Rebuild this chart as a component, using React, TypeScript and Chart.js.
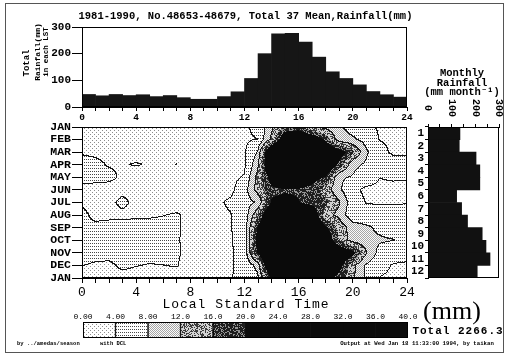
import React, { useEffect, useRef } from 'react';
import { Chart, registerables } from 'chart.js';
Chart.register(...registerables);

const MONO = '"Liberation Mono", "DejaVu Sans Mono", monospace';

// ---------- data ----------
const MONTH_TICKS = ['JAN', 'FEB', 'MAR', 'APR', 'MAY', 'JUN', 'JUL', 'AUG', 'SEP', 'OCT', 'NOV', 'DEC', 'JAN'];
const MONTH_NUMS = ['1', '2', '3', '4', '5', '6', '7', '8', '9', '10', '11', '12'];
const HOURLY_TOTAL = [47, 42, 47, 43, 46, 39, 43, 35, 29, 29, 39, 57, 107, 200, 274, 276, 243, 187, 132, 107, 83, 58, 46, 37];
const MONTHLY_TOTAL = [135, 132, 203, 219, 219, 121, 142, 167, 229, 245, 262, 208];
const MONTHLY_TICKS = [0, 100, 200, 300];
const LEGEND_LABELS = ['0.00', '4.00', '8.00', '12.0', '16.0', '20.0', '24.0', '28.0', '32.0', '36.0', '40.0'];
const LEGEND_BOUNDS = [0, 4, 8, 12, 16, 20, 24, 28, 32, 36, 40];
const CONTOUR_LEVELS = [4, 8, 12, 16, 20];

// grid nodes: rows = month ticks (JAN..DEC, JAN), columns = hours 0..24
const GRID_JAN = [3.0, 3.0, 3.0, 3.0, 3.0, 3.0, 2.9, 2.8, 2.6, 2.5, 2.6, 3.0, 3.4, 4.9, 11.0, 16.5, 17.5, 12.3, 10.5, 8.6, 6.5, 4.8, 3.6, 3.3, 3.1];
const GRID_FEB = [3.2, 3.1, 3.0, 3.0, 3.0, 2.9, 2.8, 2.7, 2.5, 2.5, 2.7, 3.1, 3.6, 4.0, 12.6, 26.0, 27.0, 25.0, 19.3, 9.5, 8.6, 6.5, 3.9, 3.6, 3.5];
const GRID_MAR = [3.7, 3.5, 3.3, 3.1, 3.0, 3.0, 2.9, 2.8, 2.6, 2.6, 2.8, 3.1, 3.4, 8.2, 30.0, 31.0, 31.0, 30.0, 27.0, 23.0, 17.0, 8.7, 4.8, 3.6, 3.7];
const GRID_APR = [5.0, 4.6, 3.8, 3.85, 4.15, 3.85, 3.5, 4.05, 3.4, 3.0, 3.0, 2.9, 3.0, 11.0, 30.0, 31.0, 31.0, 30.0, 27.0, 18.8, 9.2, 7.4, 5.5, 5.0, 4.6];
const GRID_MAY = [5.2, 4.9, 4.6, 3.6, 3.0, 3.0, 3.0, 3.0, 2.9, 2.8, 3.0, 3.2, 4.3, 13.4, 22.3, 26.0, 25.0, 22.0, 19.5, 8.6, 7.7, 5.5, 4.05, 4.3, 4.2];
const GRID_JUN = [3.0, 3.0, 3.1, 3.2, 3.2, 3.0, 2.9, 2.8, 2.7, 2.7, 2.9, 3.2, 6.0, 13.7, 19.0, 19.5, 19.5, 18.5, 14.2, 8.8, 4.6, 3.5, 3.5, 3.4, 3.4];
const GRID_JUL = [3.6, 3.3, 3.2, 4.7, 3.2, 3.1, 3.0, 2.9, 2.8, 2.8, 3.5, 4.5, 6.3, 8.5, 20.5, 21.5, 20.2, 18.5, 16.8, 12.5, 5.5, 3.9, 3.8, 3.8, 3.9];
const GRID_AUG = [4.7, 3.3, 3.4, 3.4, 3.5, 3.6, 3.9, 4.2, 3.5, 3.0, 3.1, 3.9, 5.0, 15.5, 29.0, 30.0, 29.0, 25.0, 13.4, 10.9, 5.0, 4.8, 4.8, 4.7, 4.7];
const GRID_SEP = [4.8, 4.6, 4.8, 5.0, 5.0, 5.0, 4.9, 4.6, 2.6, 2.6, 2.8, 3.9, 5.0, 21.0, 30.0, 31.0, 31.0, 28.0, 21.0, 14.75, 10.0, 8.8, 7.0, 5.8, 5.3];
const GRID_OCT = [5.0, 4.8, 5.0, 5.2, 5.2, 5.2, 5.0, 4.5, 2.6, 2.7, 2.9, 3.8, 5.2, 23.0, 31.0, 32.0, 32.0, 30.0, 25.0, 15.5, 10.0, 9.2, 8.6, 8.1, 7.5];
const GRID_NOV = [5.0, 4.9, 5.0, 5.2, 4.8, 4.8, 4.8, 4.6, 2.7, 2.8, 3.0, 3.7, 5.0, 21.0, 31.0, 32.0, 32.0, 31.0, 29.0, 26.0, 22.0, 12.5, 6.5, 5.5, 5.2];
const GRID_DEC = [4.1, 3.7, 3.5, 4.5, 4.1, 3.9, 4.0, 4.2, 2.7, 2.7, 2.9, 3.8, 4.6, 9.5, 31.0, 32.0, 32.0, 30.0, 26.0, 22.0, 13.5, 7.5, 5.0, 3.8, 3.6];
const GRID_JAN2 = [3.3, 3.2, 3.2, 3.2, 3.2, 3.1, 3.0, 3.0, 2.8, 2.8, 2.9, 3.8, 5.0, 7.0, 20.5, 27.0, 28.0, 25.0, 22.0, 18.4, 12.8, 7.5, 3.9, 3.5, 3.3];
const GRID = [GRID_JAN, GRID_FEB, GRID_MAR, GRID_APR, GRID_MAY, GRID_JUN, GRID_JUL, GRID_AUG, GRID_SEP, GRID_OCT, GRID_NOV, GRID_DEC, GRID_JAN2];

// ---------- textures ----------
function hash(x: number, y: number) {
  let h = (Math.imul(x + 17, 73856093) ^ Math.imul(y + 31, 19349663)) | 0;
  h = Math.imul(h ^ (h >>> 16), 0x85ebca6b);
  h = Math.imul(h ^ (h >>> 13), 0xc2b2ae35);
  h ^= h >>> 16;
  return (h >>> 0) / 4294967296;
}
function texel(level: number, x: number, y: number) {
  switch (level) {
    case 0: return (((x & 3) === 0 && (y & 3) === 0) || ((x & 3) === 2 && (y & 3) === 2)) ? 140 : 255;
    case 1: return (x % 2 === 0 && y % 3 === 0) ? 70 : 255;
    case 2: return ((x + y) & 1) === 0 ? 165 : 250;
    case 3: return hash(x, y) < 0.42 ? 60 : 210;
    case 4: return hash(x, y) < 0.72 ? 30 : 150;
    default: return 10;
  }
}
function levelOf(v: number) {
  let l = 0;
  for (const c of CONTOUR_LEVELS) if (v >= c) l++;
  return l;
}
function sample(h: number, m: number) {
  const hh = Math.max(0, Math.min(24, h));
  const mm = Math.max(0, Math.min(12, m));
  const i0 = Math.min(23, Math.floor(hh));
  const j0 = Math.min(11, Math.floor(mm));
  const fx = hh - i0, fy = mm - j0;
  const a = GRID[j0][i0], b = GRID[j0][i0 + 1], c = GRID[j0 + 1][i0], d = GRID[j0 + 1][i0 + 1];
  return (a * (1 - fx) + b * fx) * (1 - fy) + (c * (1 - fx) + d * fx) * fy;
}
function makePattern(ctx: CanvasRenderingContext2D, level: number) {
  const s = 64;
  const off = document.createElement('canvas');
  off.width = s; off.height = s;
  const o = off.getContext('2d')!;
  const img = o.createImageData(s, s);
  for (let y = 0; y < s; y++) for (let x = 0; x < s; x++) {
    const g = texel(level, x, y);
    const k = (y * s + x) * 4;
    img.data[k] = g; img.data[k + 1] = g; img.data[k + 2] = g; img.data[k + 3] = 255;
  }
  o.putImageData(img, 0, 0);
  return ctx.createPattern(off, 'repeat')!;
}

// ---------- plugins ----------
const boxPlugin = {
  id: 'box',
  afterDraw(chart: any) {
    const { ctx, chartArea: a } = chart;
    ctx.save();
    ctx.strokeStyle = '#000';
    ctx.lineWidth = 1;
    ctx.strokeRect(Math.round(a.left) + 0.5, Math.round(a.top) + 0.5, Math.round(a.right - a.left) - 1, Math.round(a.bottom - a.top) - 1);
    ctx.restore();
  },
};

const fieldPlugin = {
  id: 'field',
  beforeDatasetsDraw(chart: any) {
    const { ctx, chartArea: a, scales } = chart;
    const xs = scales.x, ys = scales.y;
    const L = Math.round(a.left), T = Math.round(a.top);
    const w = Math.round(a.right) - L, h = Math.round(a.bottom) - T;
    const lev = new Int8Array(w * h);
    for (let j = 0; j < h; j++) {
      const mv = ys.getValueForPixel(T + j + 0.5);
      for (let i = 0; i < w; i++) {
        const hv = xs.getValueForPixel(L + i + 0.5);
        lev[j * w + i] = levelOf(sample(hv, mv));
      }
    }
    const off = document.createElement('canvas');
    off.width = w; off.height = h;
    const o = off.getContext('2d')!;
    const img = o.createImageData(w, h);
    for (let j = 0; j < h; j++) for (let i = 0; i < w; i++) {
      const l = lev[j * w + i];
      let g = texel(l, L + i, T + j);
      const r = i + 1 < w ? lev[j * w + i + 1] : l;
      const d = j + 1 < h ? lev[(j + 1) * w + i] : l;
      if ((r !== l && Math.min(r, l) <= 2) || (d !== l && Math.min(d, l) <= 2)) g = 20;
      const k = (j * w + i) * 4;
      img.data[k] = g; img.data[k + 1] = g; img.data[k + 2] = g; img.data[k + 3] = 255;
    }
    o.putImageData(img, 0, 0);
    ctx.drawImage(off, L, T);
  },
};

const rotLabelsPlugin = {
  id: 'rotLabels',
  afterDraw(chart: any) {
    const { ctx } = chart;
    const xs = chart.scales.x;
    ctx.save();
    ctx.font = `bold 10px ${MONO}`;
    ctx.fillStyle = '#000';
    ctx.textAlign = 'center';
    ctx.textBaseline = 'middle';
    for (const v of MONTHLY_TICKS) {
      const px = xs.getPixelForValue(v);
      ctx.save();
      ctx.translate(px, 108);
      ctx.rotate(Math.PI / 2);
      ctx.fillText(String(v), 0, 0);
      ctx.restore();
    }
    ctx.restore();
  },
};

const legendLabelsPlugin = {
  id: 'legendLabels',
  afterDraw(chart: any) {
    const { ctx } = chart;
    const xs = chart.scales.x;
    ctx.save();
    ctx.font = `8px ${MONO}`;
    ctx.fillStyle = '#000';
    ctx.textAlign = 'center';
    ctx.textBaseline = 'middle';
    LEGEND_BOUNDS.forEach((v, i) => {
      ctx.fillText(LEGEND_LABELS[i], xs.getPixelForValue(v), 317);
    });
    ctx.restore();
  },
};

const W = 506, H = 359;
const axisGrid = (len: number) => ({ drawOnChartArea: false, drawTicks: true, tickLength: len, color: '#000', lineWidth: 1 });
const axisBorder = { display: true, color: '#000', width: 1 };

function Txt(props: { x: number; y: number; size: number; children: React.ReactNode; bold?: boolean; family?: string; rot?: number; ls?: number; align?: 'center' | 'left' }) {
  const { x, y, size, bold, family, rot, ls, align } = props;
  const tx = align === 'left' ? '0' : '-50%';
  return (
    <div style={{
      position: 'absolute', left: x, top: y, fontSize: size, fontFamily: family || MONO,
      fontWeight: bold ? 'bold' : 'normal', lineHeight: 1, whiteSpace: 'pre', color: '#000',
      letterSpacing: ls ? ls : 0,
      transform: `translate(${tx}, -50%)${rot ? ` rotate(${rot}deg)` : ''}`,
    }}>{props.children}</div>
  );
}

export default function App() {
  const topRef = useRef<HTMLCanvasElement>(null);
  const heatRef = useRef<HTMLCanvasElement>(null);
  const monRef = useRef<HTMLCanvasElement>(null);
  const legRef = useRef<HTMLCanvasElement>(null);

  useEffect(() => {
    const charts: Chart[] = [];
    const common = { responsive: false, animation: false as const, events: [] as any[], plugins: { legend: { display: false }, tooltip: { enabled: false } } };

    // top hourly bar chart: plot area x 82..407, y 27..107
    charts.push(new Chart(topRef.current!, {
      type: 'bar',
      data: { datasets: [{ data: HOURLY_TOTAL.map((v, i) => ({ x: i + 0.5, y: v })), backgroundColor: '#161616', borderWidth: 0, barPercentage: 1, categoryPercentage: 1 }] as any },
      options: {
        ...common,
        layout: { padding: { left: 82 - 40, top: 27, right: W - 407, bottom: H - 107 - 20 } },
        scales: {
          x: {
            type: 'linear', min: 0, max: 24, offset: false,
            afterFit: (s: any) => { s.height = 20; },
            ticks: { stepSize: 1, autoSkip: false, maxRotation: 0, padding: 1, color: '#000', font: { family: MONO, size: 9.5, weight: 'bold' }, callback: (v: any) => (v % 4 === 0 ? String(v) : '') },
            grid: { ...axisGrid(4), offset: false }, border: axisBorder,
          },
          y: {
            min: 0, max: 300,
            afterFit: (s: any) => { s.width = 40; },
            ticks: { stepSize: 100, padding: 1, color: '#000', font: { family: MONO, size: 11, weight: 'bold' } },
            grid: axisGrid(10), border: axisBorder,
          },
        },
      } as any,
      plugins: [boxPlugin],
    }));

    // contour field: plot area x 82..407, y 127..278
    const nodes: { x: number; y: number }[] = [];
    GRID.forEach((row, j) => row.forEach((_, i) => nodes.push({ x: i, y: j })));
    charts.push(new Chart(heatRef.current!, {
      type: 'scatter',
      data: { datasets: [{ data: nodes, pointRadius: 0 }] },
      options: {
        ...common,
        layout: { padding: { left: 82 - 40, top: 127, right: W - 407, bottom: H - 278 - 30 } },
        scales: {
          x: {
            type: 'linear', min: 0, max: 24,
            afterFit: (s: any) => { s.height = 30; },
            ticks: { stepSize: 1, autoSkip: false, maxRotation: 0, padding: 2, color: '#000', font: { family: MONO, size: 13 }, callback: (v: any) => (v % 4 === 0 ? String(v) : '') },
            grid: axisGrid(5), border: axisBorder,
          },
          y: {
            type: 'linear', min: 0, max: 12, reverse: true,
            afterFit: (s: any) => { s.width = 40; },
            ticks: { stepSize: 1, autoSkip: false, padding: 1, color: '#000', font: { family: MONO, size: 11.5, weight: 'bold' }, callback: (v: any) => MONTH_TICKS[v] ?? '' },
            grid: axisGrid(10), border: axisBorder,
          },
        },
      } as any,
      plugins: [fieldPlugin, boxPlugin],
    }));

    // monthly totals: plot area x 428..499, y 127..278
    charts.push(new Chart(monRef.current!, {
      type: 'bar',
      data: { labels: MONTH_NUMS, datasets: [{ data: MONTHLY_TOTAL, backgroundColor: '#111', borderWidth: 0, barPercentage: 1, categoryPercentage: 1 }] },
      options: {
        ...common,
        indexAxis: 'y',
        layout: { padding: { left: 428 - 16, top: 127 - 20, right: W - 499, bottom: H - 278 } },
        scales: {
          x: {
            position: 'top', min: 0, max: 300,
            afterFit: (s: any) => { s.height = 20; },
            ticks: { stepSize: 50, display: false },
            grid: axisGrid(3), border: axisBorder,
          },
          y: {
            afterFit: (s: any) => { s.width = 16; },
            ticks: { autoSkip: false, padding: 1, color: '#000', font: { family: MONO, size: 11, weight: 'bold' } },
            grid: { ...axisGrid(3), offset: true }, border: axisBorder,
          },
        },
      } as any,
      plugins: [boxPlugin, rotLabelsPlugin],
    }));

    // legend color bar: x 83..408, y 322..338
    const lctx = legRef.current!.getContext('2d')!;
    const fills: any[] = [0, 1, 2, 3, 4].map((l) => makePattern(lctx, l));
    const legendSets = LEGEND_BOUNDS.slice(0, -1).map((lo, k) => ({
      data: [[lo, LEGEND_BOUNDS[k + 1]]],
      backgroundColor: k < 5 ? fills[k] : '#0c0c0c',
      borderColor: '#000', borderWidth: k < 5 ? 1 : 0, borderSkipped: false,
      barPercentage: 1, categoryPercentage: 1, grouped: false,
    }));
    charts.push(new Chart(legRef.current!, {
      type: 'bar',
      data: { labels: [''], datasets: legendSets as any },
      options: {
        ...common,
        indexAxis: 'y',
        layout: { padding: { left: 83, top: 322 - 16, right: W - 408, bottom: H - 338 } },
        scales: {
          x: {
            position: 'top', min: 0, max: 40,
            afterFit: (s: any) => { s.height = 16; },
            ticks: { display: false, stepSize: 4 },
            grid: { display: false }, border: { display: false },
          },
          y: { display: false },
        },
      } as any,
      plugins: [boxPlugin, legendLabelsPlugin],
    }));

    return () => { charts.forEach((c) => c.destroy()); };
  }, []);

  const cv = { position: 'absolute' as const, left: 0, top: 0, width: W, height: H };
  return (
    <div style={{ position: 'absolute', left: 0, top: 0, width: W, height: H, background: '#fff', overflow: 'hidden' }}>
      <div style={{ position: 'absolute', left: 5, top: 3, width: 497, height: 348, border: '1px solid #555' }} />
      <canvas ref={topRef} width={W} height={H} style={cv} />
      <canvas ref={heatRef} width={W} height={H} style={cv} />
      <canvas ref={monRef} width={W} height={H} style={cv} />
      <canvas ref={legRef} width={W} height={H} style={cv} />
      <Txt x={245.5} y={16} size={10.5} bold>1981-1990, No.48653-48679, Total 37 Mean,Rainfall(mm)</Txt>
      <Txt x={26.5} y={63} size={9} bold rot={-90}>Total</Txt>
      <Txt x={37.5} y={52} size={8} bold rot={-90}>Rainfall(mm)</Txt>
      <Txt x={46.5} y={52} size={7.5} bold rot={-90}>in each LST</Txt>
      <Txt x={462} y={73} size={10.5} bold>Monthly</Txt>
      <Txt x={462} y={82.5} size={10.5} bold>Rainfall</Txt>
      <Txt x={462} y={92} size={10.5} bold>(mm month⁻¹)</Txt>
      <Txt x={246} y={303.5} size={13} ls={1}>Local Standard Time</Txt>
      <Txt x={452} y={311} size={26} family='"Liberation Serif", serif'>(mm)</Txt>
      <Txt x={458} y={331} size={11} bold ls={1}>Total 2266.3</Txt>
      <Txt x={17} y={344} size={5.5} bold align="left">by ../amedas/season</Txt>
      <Txt x={100} y={344} size={5.5} bold align="left">with DCL</Txt>
      <Txt x={417} y={344} size={5.7} bold>Output at Wed Jan 18 11:33:00 1994, by taikan</Txt>
    </div>
  );
}
